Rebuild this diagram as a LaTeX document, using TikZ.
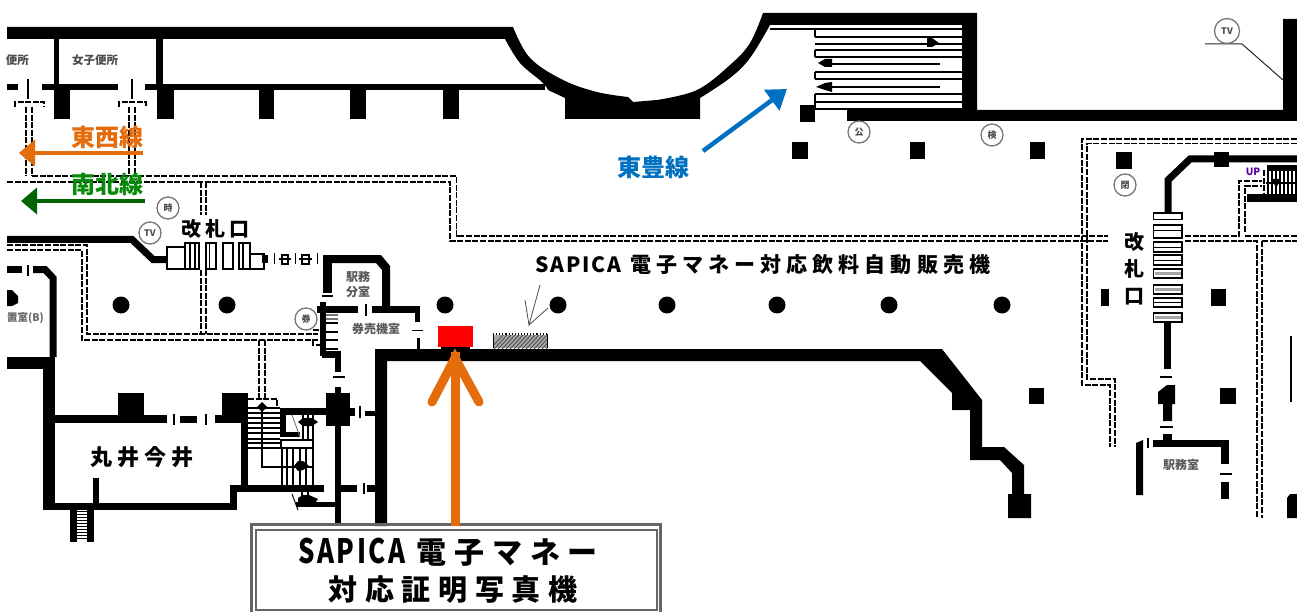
\documentclass[tikz,border=0pt]{standalone}
\usepackage{fontspec}
\setmainfont{Noto Sans CJK JP}
\usetikzlibrary{arrows.meta}
\definecolor{orangeL}{HTML}{E46C0A}
\definecolor{greenT}{HTML}{0A8A0A}
\definecolor{greenA}{HTML}{006400}
\definecolor{blueL}{HTML}{0070C0}
\definecolor{ringG}{HTML}{777777}
\definecolor{boxG}{HTML}{666666}
\newcommand{\wallrect}[4]{\fill[black] (#1,#2) rectangle (#3,#4);}
\newcommand{\thinbar}[4]{\draw[black,line width=1.1pt] (#1,#2) -- (#3,#4);}
\tikzset{
  dd/.style={black,line width=1.2pt,dash pattern=on 6pt off 1.6pt},
  wallline/.style={black,line width=7pt,line join=miter},
  ring/.style={circle,draw=ringG,line width=1.3pt,fill=white,minimum size=22pt,inner sep=0pt,font=\fontsize{9}{9}\selectfont\bfseries,text=black!70},
  roomlabel/.style={font=\fontsize{12}{15}\selectfont\bfseries,text=black!65,inner sep=0pt,align=center},
  railT/.style={font=\fontsize{24}{24}\selectfont\bfseries,inner sep=0pt},
  mapT/.style={font=\fontsize{20}{20}\selectfont\bfseries,text=black,inner sep=0pt},
  ln/.style={black,line width=1.3pt}
}
\begin{document}
\begin{tikzpicture}[x=1pt,y=-1pt]
\path[use as bounding box,fill=white] (0,0) rectangle (1297,612);

% ---- dashed corridors
\draw[dd] (32,176) -- (456.5,176) -- (456.5,236) -- (1108,236);
\draw[dd] (7,182) -- (450,182) -- (450,241) -- (1108,241);
\draw[dd] (1185,236) -- (1239,236) -- (1239,181) -- (1262,181);
\draw[dd] (1245,236) -- (1297,236);
\draw[dd] (1185,241) -- (1257,241) -- (1257,518);
\draw[dd] (1262,241) -- (1297,241);
\draw[dd] (1262,241) -- (1262,518);
\draw[dd] (1245,232) -- (1245,186) -- (1262,186);
\draw[dd] (1264,170) -- (1264,193);
\draw[dd] (1297,139) -- (1082,139) -- (1082,385) -- (1110,385) -- (1110,447);
\draw[dd] (1297,143.5) -- (1087,143.5) -- (1087,379) -- (1115,379) -- (1115,447);
\draw[dd] (26,107) -- (26,176); \draw[dd] (32,107) -- (32,176);
\draw[dd] (129,107) -- (129,176); \draw[dd] (135,107) -- (135,176);
\draw[dd] (15,107) -- (15,102) -- (44,102) -- (44,107);
\draw[dd] (119,107) -- (119,102) -- (146,102) -- (146,107);
\draw[dd] (201,182) -- (201,215); \draw[dd] (206,182) -- (206,215);
\draw[dd] (201,270) -- (201,334); \draw[dd] (206,270) -- (206,334);
\draw[dd] (7,245) -- (87,245) -- (87,334) -- (318,334);
\draw[dd] (7,250) -- (82,250) -- (82,340) -- (320,340);
\draw[dd] (313,330) -- (320,330) (313,340) -- (313,345) -- (320,345);
\draw[dd] (259,340) -- (259,399); \draw[dd] (265,340) -- (265,399);
\draw[dd] (248,399) -- (277,399) -- (277,406);

% ---- top wall with the curved bay
\fill[black] (7,27) -- plot[smooth,tension=.6] coordinates {(513,27) (530,58) (563,80) (597,92) (628,97)}
  -- (633,102) -- plot[smooth,tension=.6] coordinates {(657,100) (697,90) (730,65) (750,43) (763,13)}
  -- (977,13) -- (977,110) -- (1283,110) -- (1283,19) -- (1297,19) -- (1297,121) -- (847,121) -- (847,110) -- (962,110)
  -- (962,25) -- plot[smooth,tension=.6] coordinates {(770,25) (750,58) (730,78) (700,98)}
  -- (700,119) -- (565,119) -- (565,98) -- plot[smooth,tension=.6] coordinates {(548,90) (542,82) (520,63) (505,39)}
  -- (7,39) -- cycle;
\wallrect{54}{39}{58.5}{90}
\wallrect{156}{39}{162.5}{90}
\wallrect{7}{84.5}{18}{90}
\wallrect{42}{84.5}{118}{90}
\wallrect{145}{84.5}{545}{90}
\wallrect{54}{90}{70}{119}
\wallrect{157}{90}{174}{119}
\wallrect{259}{90}{274}{119}
\wallrect{350}{90}{366}{119}
\wallrect{443}{90}{459}{119}
\wallrect{800}{105}{815}{122}
\thinbar{28}{79}{28}{99}
\thinbar{132}{79}{132}{99}

% ---- east stairs
\foreach \yy in {29,37,44,50,57,72,79,94,102,109} {\draw[ln] (815,\yy) -- (962,\yy);}
\foreach \yy in {64,87} {\draw[ln] (826,\yy) -- (940,\yy);}
\draw[ln] (770,29) -- (815,29);
\draw[ln] (815,29) -- (815,37); \draw[ln] (815,50) -- (815,57);
\draw[ln] (815,72) -- (815,79); \draw[ln] (815,94) -- (815,109);
\fill[black] (818,63) -- (825,59) -- (832,59) -- (832,67) -- (825,67) -- cycle;
\fill[black] (816,87) -- (825,83) -- (832,82) -- (832,92) -- (825,90) -- cycle;
\fill[black] (939,43) -- (932,38) -- (927,38) -- (927,47) -- (932,47) -- cycle;

% ---- square pillars
\wallrect{792}{142}{808}{159}
\wallrect{910}{142}{925}{159}
\wallrect{1030}{142}{1045}{159}
\wallrect{1116}{152}{1132}{169}
\wallrect{1101}{289}{1109}{306}
\wallrect{1211}{289}{1226}{306}
\wallrect{1029}{388}{1044}{404}
\wallrect{1220}{388}{1236}{404}

% ---- round pillars
\foreach \xx in {121,227,445,558,667,777,889,1002} {\fill[black] (\xx,305) circle[radius=8.5pt];}

% ---- left room
\wallrect{7}{266}{22}{273}
\thinbar{28}{265}{28}{276}
\draw[wallline] (33,269.5) -- (45,269.5) -- (53,278) -- (53,357);
\fill[black] (7,290) -- (12,290) -- (18,296) -- (18,303) -- (12,306) -- (7,306) -- cycle;
\wallrect{7}{357}{55}{369}
\wallrect{43}{369}{55}{510}
\wallrect{55}{415}{167}{423}
\wallrect{118}{393}{144}{415}
\wallrect{180}{416}{197}{423}
\wallrect{215}{415}{248}{423}
\wallrect{222}{393}{248}{415}
\thinbar{174}{414}{174}{425}
\thinbar{206}{414}{206}{425}
\wallrect{241}{393}{248}{486}
\wallrect{231}{485}{324}{492}
\wallrect{230}{485}{237}{510}
\wallrect{43}{503}{237}{510}
\wallrect{93}{478}{99}{505}
\wallrect{70}{505}{77}{541.5}
\wallrect{87}{505}{94}{541.5}
\foreach \yy in {508,511,...,540} {\draw[black,line width=.9pt] (77,\yy) -- (87,\yy);}

% ---- wicket wall, left
\draw[wallline] (7,239.5) -- (132,239.5) -- (153,259.5) -- (167,259.5);
\node[ring] (tvL) at (150,233) {TV};
\node[ring] (tokei) at (168,208) {時};
\draw[ln] (167,247) rectangle (185,269);
\draw[ln] (185,243) rectangle (199,269);
\draw[ln] (190,243) -- (190,269); \draw[ln] (195,243) -- (195,269);
\draw[ln] (206,243) rectangle (216,269); \draw[ln] (209.5,243) -- (209.5,269);
\draw[ln] (223,243) rectangle (233,269);
\draw[ln] (239,243) rectangle (250,269); \draw[ln] (243,243) -- (243,269);
\draw[ln] (250,254) rectangle (264,269);
\wallrect{262}{255}{268}{263}
\thinbar{274.5}{253}{274.5}{264}
\draw[ln] (282,255) rectangle (288,264);
\thinbar{279}{259}{291}{259}
\thinbar{295.5}{253}{295.5}{264}
\draw[ln] (302,255) rectangle (309,264);
\thinbar{299}{259}{312}{259}
\thinbar{317.5}{253}{317.5}{264}

% ---- 駅務分室 / 券売機室
\wallrect{323}{255}{332}{293}
\fill[black] (323,255) -- (381,255) -- (390,266) -- (390,307) -- (382,307) -- (382,270) -- (376,263) -- (323,263) -- cycle;
\thinbar{322}{296}{333}{296}
\wallrect{317}{306}{358}{313}
\wallrect{372}{306}{420}{313}
\thinbar{366}{304}{366}{316}
\wallrect{415}{313}{420}{322}
\thinbar{412}{330.5}{423}{330.5}
\wallrect{417}{338}{420}{350}
\wallrect{320}{302}{326}{356}
\wallrect{322}{351}{341}{358}
\wallrect{335}{358}{341}{372}
\thinbar{333}{377}{345}{377}
\foreach \yy in {315,319} {\draw[black!55,line width=1.3pt] (326,\yy) -- (338,\yy);}
\foreach \yy in {323,332,340} {\draw[black,line width=1.6pt] (326,\yy) -- (338,\yy);}
\draw[black,line width=2.4pt] (326,349) -- (338,349);
\node[ring] (ken) at (306,319) {券};
\node[roomlabel] (ekimu) at (358,284.5) {駅務\\分室};
\node[roomlabel] (baiken) at (376,329) {券売機室};

% ---- block below
\wallrect{335}{387}{341}{393}
\wallrect{326}{393}{350}{426}
\wallrect{350}{408}{355}{416}
\thinbar{360}{406}{360}{418}
\wallrect{365}{411}{375}{416}
\wallrect{335}{426}{341}{526}
\wallrect{341}{485}{357}{492}
\thinbar{364}{483}{364}{494}
\wallrect{367}{485}{375}{492}
\wallrect{280}{408}{326}{415}
\wallrect{280}{415}{286}{437}
\wallrect{280}{432}{300}{437}
\wallrect{296}{502}{336}{507}

% ---- inner stairs
\foreach \yy in {408,413,418,423,428,433,439,443,448} {\draw[ln] (248,\yy) -- (280,\yy);}
\draw[ln] (281,440) rectangle (313,448);
\foreach \xx in {282,287,293,300,306,313} {\draw[ln] (\xx,448) -- (\xx,485);}
\foreach \xx in {303,308,313} {\draw[ln] (\xx,415) -- (\xx,440);}
\draw[black!55,line width=.9pt] (292,415) -- (300,437);
\draw[ln] (262,407) -- (262,467) -- (313,467);
\fill[black] (262,402) -- (267,407) -- (262,412) -- (257,407) -- cycle;
\fill[black] (298,422) -- (303,418) -- (312,418) -- (318,422) -- (312,426) -- (303,426) -- cycle;
\fill[black] (294,466) -- (298,461) -- (303,461) -- (309,466) -- (303,470) -- (298,471) -- cycle;
\fill[black] (298,498) -- (303,495) -- (309,495) -- (318,499) -- (315,503) -- (298,503) -- cycle;
\draw[black,line width=1pt] (292,494) -- (298,510);
\draw[ln] (302,492) -- (302,502); \draw[ln] (308,492) -- (308,502);

% ---- main corridor wall
\fill[black] (375,526) -- (375,349) -- (942,349) -- (982,400) -- (982,447) -- (1004,447) -- (1024,465) -- (1024,494) -- (1031,494) -- (1031,518) -- (1008,518) -- (1008,494) -- (1012,494) -- (1012,473) -- (1000,460) -- (970,460) -- (970,410) -- (952,410) -- (952,393) -- (920,361) -- (387,361) -- (387,526) -- cycle;
\wallrect{441}{346}{470}{349}

% ---- vending machine mark
\begin{scope}
  \clip (493,335) rectangle (548,348);
  \fill[black!35] (493,335) rectangle (548,348);
  \foreach \xx in {490,494,...,560} {\draw[black!75,line width=.7pt] (\xx,349) -- (\xx+14,334);}
\end{scope}
\draw[black,line width=.9pt] (493.5,348) -- (493.5,334) (547.5,348) -- (547.5,334);
\draw[black,line width=2pt,dash pattern=on 1.1pt off 2pt] (493,334) -- (548,334);
\draw[black!70,line width=.8pt] (540,285) -- (529,325) -- (525,300) (529,325) -- (548,308);

% ---- red machine
\fill[red] (438,326) rectangle (472.5,346.5);

% ---- right-hand wicket
\draw[wallline] (1168,214) -- (1168,180) -- (1190,159) -- (1297,159);
\wallrect{1214}{152}{1229}{167}
\wallrect{1247}{194}{1297}{202}
\wallrect{1267}{165}{1297}{171}
\foreach \xx in {1268,1272,1276,1280,1284,1288,1292,1296} {\draw[ln] (\xx,171) -- (\xx,194);}
\draw[ln] (1266,183) -- (1297,183);
\fill[black] (1272,179) -- (1281,179) -- (1276,188) -- cycle;
\node[inner sep=0pt,font=\fontsize{10}{10}\selectfont\bfseries,text=violet!70!blue] (up) at (1253,172) {UP};
\foreach \ya/\yb in {213/219.5,225/238,242/252,255/265,269/278,285/294,298/307,313/322} {
  \draw[ln,fill=white] (1153.5,\ya) rectangle (1182,\yb);
}
\foreach \yy in {231,247,260,302.5} {\draw[black,line width=1pt] (1153.5,\yy) -- (1182,\yy);}
\foreach \ya/\yb in {272/275,288/291,316/319} {\fill[black!35] (1154.5,\ya) rectangle (1181,\yb);}
\wallrect{1164}{322}{1171}{369}
\thinbar{1160}{377}{1172}{377}
\fill[black] (1158,392) -- (1167,385) -- (1175,385) -- (1175,404) -- (1172,404) -- (1172,421) -- (1163,421) -- (1163,404) -- (1158,404) -- cycle;
\thinbar{1160}{427}{1173}{427}
\wallrect{1163}{434}{1172}{440}
\wallrect{1153}{440}{1229}{447}
\wallrect{1221}{447}{1229}{464}
\thinbar{1220}{474}{1232}{474}
\wallrect{1221}{482}{1229}{499}
\fill[black] (1136,443) -- (1143,440) -- (1143,495) -- (1136,495) -- cycle;
\thinbar{1148}{438}{1148}{448}
\wallrect{1290}{336}{1292}{402}
\fill[black] (1287,498) -- (1290,494) -- (1297,494) -- (1297,518) -- (1287,518) -- cycle;
\node[roomlabel] (ekimushitsu) at (1181,465) {駅務室};

% ---- rings on the east side
\node[ring] (ko) at (859,132) {公};
\node[ring] (ken2) at (992,135) {検};
\node[ring] (hei) at (1125,185) {閉};
\coordinate (tvA) at (1205,44);
\coordinate (tvB) at (1242,44);
\coordinate (tvC) at (1283,80);
\draw[black!85,line width=1pt] (tvA) -- (tvB) -- (tvC);
\node[ring,minimum size=25pt] (tvR) at (1227,31) {TV};

% ---- text
\node[inner sep=0pt,font=\fontsize{11.5}{12}\selectfont\bfseries,text=black!70] (joshi) at (95,60) {女子便所};
\node[inner sep=0pt,font=\fontsize{11.5}{12}\selectfont\bfseries,text=black!70,anchor=east] (dansi) at (29,60) {便所};
\node[inner sep=0pt,font=\fontsize{10.5}{11}\selectfont\bfseries,text=black!60,anchor=west] (okiba) at (7,318) {置室(B)};
\node[mapT,fill=white,inner xsep=3pt,inner ysep=0pt] (kaisatsu) at (215,229) {\addfontfeature{LetterSpace=20}改札口};
\node[mapT,align=center,fill=white,inner ysep=1pt,inner xsep=2pt,font=\fontsize{20}{27}\selectfont\bfseries] (kaisatsuR) at (1134,269) {改\\札\\口};
\node[font=\fontsize{22}{22}\selectfont\bfseries,inner sep=0pt] (marui) at (142,457) {\addfontfeature{LetterSpace=22}丸井今井};
\node[inner sep=0pt,anchor=west,font=\fontsize{21}{21}\selectfont\bfseries] (sapicaV) at (535,265) {{\addfontfeature{LetterSpace=9}SAPICA}\hspace{9pt}\addfontfeature{LetterSpace=24}電子マネー対応飲料自動販売機};

% ---- line labels and arrows
\node[railT,text=orangeL] (tozai) at (107,137) {東西線};
\coordinate (tozaiA) at (143,153);
\coordinate (tozaiB) at (19,153);
\draw[orangeL,line width=4.5pt,-{Triangle[length=16pt,width=26pt]}] (tozaiA) -- (tozaiB);
\node[railT,text=greenT] (nanboku) at (107,184) {南北線};
\coordinate (nanA) at (145,201);
\coordinate (nanB) at (21,201);
\draw[greenA,line width=4.5pt,-{Triangle[length=16pt,width=26pt]}] (nanA) -- (nanB);
\node[railT,text=blueL] (toho) at (653,167) {東豊線};
\coordinate (tohoA) at (703,151);
\coordinate (tohoB) at (787,89);
\draw[blueL,line width=4.5pt,-{Triangle[length=19pt,width=25pt]}] (tohoA) -- (tohoB);

% ---- callout box
\draw[boxG,line width=3pt] (251,524.5) rectangle (660.5,616);
\draw[boxG,line width=2pt] (256,530) rectangle (656.5,610);
\node[inner sep=0pt,font=\fontsize{30}{30}\selectfont\bfseries,anchor=west] (box1) at (298,552) {\scalebox{.86}[1.12]{\addfontfeature{LetterSpace=10}SAPICA}\hspace{11pt}{\addfontfeature{LetterSpace=26}電子マネー}};
\node[inner sep=0pt,font=\fontsize{29}{29}\selectfont\bfseries] (box2) at (453,590) {\addfontfeature{LetterSpace=26}対応証明写真機};
\coordinate (photoS) at (455,526);
\coordinate (photoT) at (455,352);
\draw[orangeL,line width=9pt] (photoS) -- (photoT);
\draw[orangeL,line width=9pt,line cap=round,line join=miter,miter limit=10] (432,402) -- (455,358) -- (479,402);
\end{tikzpicture}
\end{document}
